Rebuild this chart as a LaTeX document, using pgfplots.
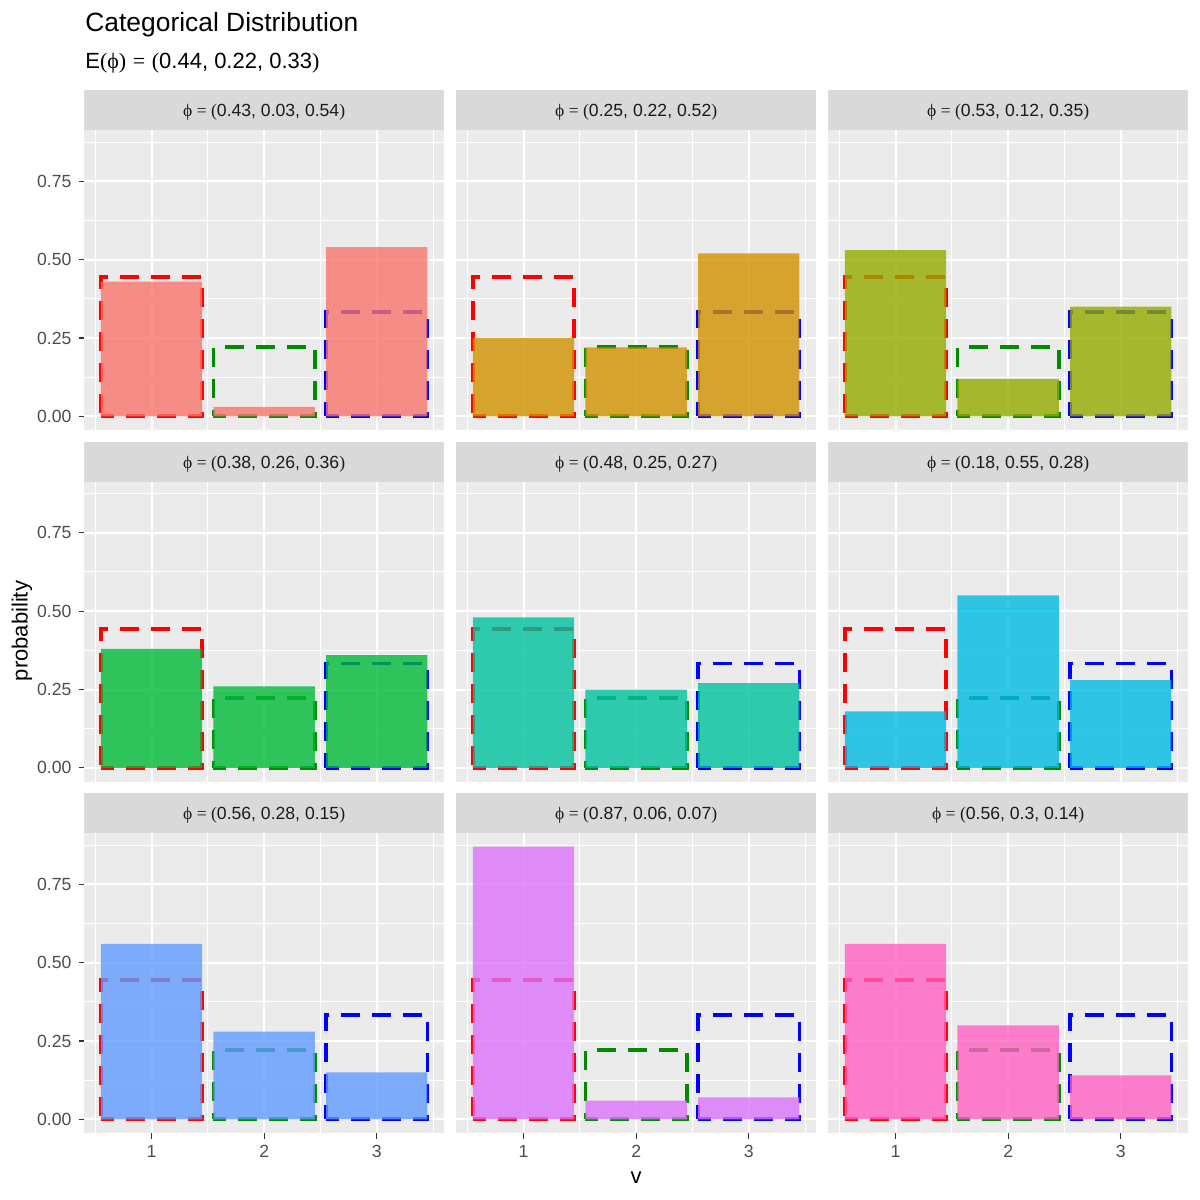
\documentclass[border=0pt]{standalone}
\usepackage{fontspec}
\setmainfont{Liberation Sans}
\newfontfamily\serif{Liberation Serif}
\usepackage{pgfplots}
\pgfplotsset{compat=1.18}
\definecolor{ggbg}{HTML}{EBEBEB}
\definecolor{stripbg}{HTML}{D9D9D9}
\definecolor{gray20}{HTML}{333333}
\definecolor{gray30}{HTML}{4D4D4D}
\definecolor{gray10}{HTML}{1A1A1A}
\definecolor{dred}{HTML}{FF0000}
\definecolor{dgreen}{HTML}{008B00}
\definecolor{dblue}{HTML}{0000FF}
\definecolor{c1}{HTML}{F8766D}
\definecolor{c2}{HTML}{D39200}
\definecolor{c3}{HTML}{93AA00}
\definecolor{c4}{HTML}{00BA38}
\definecolor{c5}{HTML}{00C19F}
\definecolor{c6}{HTML}{00B9E3}
\definecolor{c7}{HTML}{619CFF}
\definecolor{c8}{HTML}{DB72FB}
\definecolor{c9}{HTML}{FF61C3}
\pgfplotsset{
  facet/.style={
    width=180.15pt, height=150pt, scale only axis,
    anchor=north west,
    xmin=0.4, xmax=3.6, ymin=-0.0435, ymax=0.9135,
    axis background/.style={fill=ggbg},
    axis line style={draw=none},
    xtick={1,2,3}, ytick={0,0.25,0.5,0.75},
    minor xtick={0.5,1.5,2.5,3.5}, minor ytick={0.125,0.375,0.625,0.875},
    grid=both,
    major grid style={draw=white, line width=1pt},
    minor grid style={draw=white, line width=0.5pt},
    tick align=outside, major tick length=2.75pt, minor tick length=0pt,
    tick style={draw=gray20, line width=0.55pt},
    tick pos=left,
    xticklabels={}, yticklabels={},
    ticklabel style={font=\fontsize{8.8}{10}\selectfont, text=gray30},
    clip=false,
  },
  bottomrow/.style={xticklabels={1,2,3}},
  innerrow/.style={xtick style={draw=none}},
  leftcol/.style={yticklabels={0.00,0.25,0.50,0.75}},
  innercol/.style={ytick style={draw=none}},
  dashbox/.style={ybar, bar width=0.9, bar shift=0pt, fill=none, line width=1.9pt, dash pattern=on 9.5pt off 6pt, dash phase=3pt},
}
\newcommand\facet[8]{%
  \begin{axis}[facet, at={(#1,#2)}, #3]
    \addplot[dashbox, draw=dred] coordinates {(1,0.444)};
    \addplot[dashbox, draw=dgreen] coordinates {(2,0.222)};
    \addplot[dashbox, draw=dblue] coordinates {(3,0.333)};
    \addplot[ybar, bar width=0.9, bar shift=0pt, draw=none, fill=#4, fill opacity=0.8] coordinates {(1,#5) (2,#6) (3,#7)};
    \fill[stripbg] (rel axis cs:0,1) rectangle ([yshift=20pt]rel axis cs:1,1);
    \node[anchor=base, inner sep=0pt, font=\fontsize{8.8}{10}\selectfont, text=gray10] at ([yshift=6.6pt]rel axis cs:0.5,1) {{\serif ϕ\hspace{0.25em}=\hspace{0.25em}(}#8{\serif )}};
  \end{axis}%
}
\begin{document}
\begin{tikzpicture}
\useasboundingbox (0,0) rectangle (600pt,-600pt);
\fill[white] (0,0) rectangle (600pt,-600pt);
\node[anchor=base west, font=\fontsize{13.2}{15}\selectfont, inner sep=0pt] at (42.5pt,-15.5pt) {Categorical Distribution};
\node[anchor=base west, font=\fontsize{11}{13}\selectfont, inner sep=0pt] at (42.5pt,-34pt) {E{\serif (ϕ)\hspace{0.3em}=\hspace{0.3em}(}0.44, 0.22, 0.33{\serif )}};
% row 1
\facet{42pt}{-65pt}{leftcol,innerrow}{c1}{0.43}{0.03}{0.54}{0.43, 0.03, 0.54}
\facet{228pt}{-65pt}{innercol,innerrow}{c2}{0.25}{0.22}{0.52}{0.25, 0.22, 0.52}
\facet{414pt}{-65pt}{innercol,innerrow}{c3}{0.53}{0.12}{0.35}{0.53, 0.12, 0.35}
% row 2
\facet{42pt}{-240.75pt}{leftcol,innerrow}{c4}{0.38}{0.26}{0.36}{0.38, 0.26, 0.36}
\facet{228pt}{-240.75pt}{innercol,innerrow}{c5}{0.48}{0.25}{0.27}{0.48, 0.25, 0.27}
\facet{414pt}{-240.75pt}{innercol,innerrow}{c6}{0.18}{0.55}{0.28}{0.18, 0.55, 0.28}
% row 3
\facet{42pt}{-416.5pt}{leftcol,bottomrow}{c7}{0.56}{0.28}{0.15}{0.56, 0.28, 0.15}
\facet{228pt}{-416.5pt}{innercol,bottomrow}{c8}{0.87}{0.06}{0.07}{0.87, 0.06, 0.07}
\facet{414pt}{-416.5pt}{innercol,bottomrow}{c9}{0.56}{0.3}{0.14}{0.56, 0.3, 0.14}
\node[rotate=90, font=\fontsize{11}{13}\selectfont] at (11pt,-315.5pt) {probability};
\node[font=\fontsize{11}{13}\selectfont] at (318pt,-589pt) {v};
\end{tikzpicture}
\end{document}
